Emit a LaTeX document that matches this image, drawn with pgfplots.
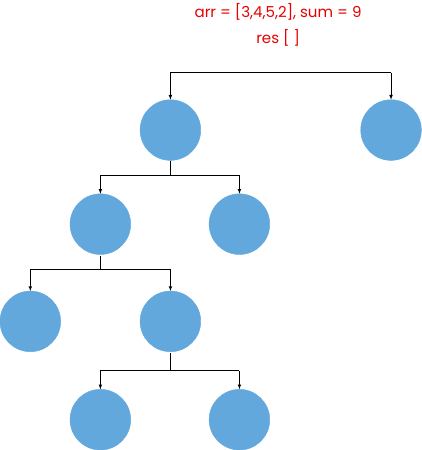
\documentclass[border=0pt]{standalone}
\usepackage{pgfplots}
\pgfplotsset{compat=1.18}
\usepackage{fontspec}
\setmainfont{Poppins}
\definecolor{nodeblue}{RGB}{98,168,220}
\definecolor{tred}{RGB}{230,0,0}
\begin{document}
\begin{tikzpicture}
\begin{axis}[width=418pt,height=450pt,scale only axis,axis lines=none,
 xmin=0,xmax=418,ymin=0,ymax=450,y dir=reverse,clip=false,
 set layers, every node/.append style={on layer=axis foreground}]
% connectors
\addplot[black,semithick] coordinates {(172,80) (383,80)};
\addplot[black,semithick,-latex] coordinates {(172,80) (172,106)};
\addplot[black,semithick,-latex] coordinates {(383,80) (383,106)};
\addplot[black,semithick] coordinates {(172,165) (172,178)};
\addplot[black,semithick] coordinates {(105,178) (238,178)};
\addplot[black,semithick,-latex] coordinates {(105,178) (105,196)};
\addplot[black,semithick,-latex] coordinates {(238,178) (238,196)};
\addplot[black,semithick] coordinates {(105,255) (105,268)};
\addplot[black,semithick] coordinates {(38,268) (172,268)};
\addplot[black,semithick,-latex] coordinates {(38,268) (38,289)};
\addplot[black,semithick,-latex] coordinates {(172,268) (172,289)};
\addplot[black,semithick] coordinates {(172,348) (172,365)};
\addplot[black,semithick] coordinates {(105,365) (238,365)};
\addplot[black,semithick,-latex] coordinates {(105,365) (105,383)};
\addplot[black,semithick,-latex] coordinates {(238,365) (238,383)};
% nodes
\addplot[only marks,mark=*,mark size=29pt,mark options={fill=nodeblue,draw=nodeblue}] coordinates {
(172,135) (383,135) (105,225) (238,225) (38,318) (172,318) (105,412) (238,412)};
\node[white,font=\large] at (axis cs:172,135) {S-3};
\node[white,font=\large] at (axis cs:383,135) {R-3};
\node[white,font=\large] at (axis cs:105,225) {S-4};
\node[white,font=\large] at (axis cs:238,225) {R-4};
\node[white,font=\large] at (axis cs:38,318) {S-5};
\node[white,font=\large] at (axis cs:172,318) {R-5};
\node[white,font=\large] at (axis cs:105,412) {S-2};
\node[white,font=\large] at (axis cs:238,412) {R-2};
\node[tred,font=\Large] at (axis cs:275,22) {arr = [3,4,5,2], sum = 9};
\node[tred,font=\Large] at (axis cs:275,47) {res [ ]};
\end{axis}
\end{tikzpicture}
\end{document}
